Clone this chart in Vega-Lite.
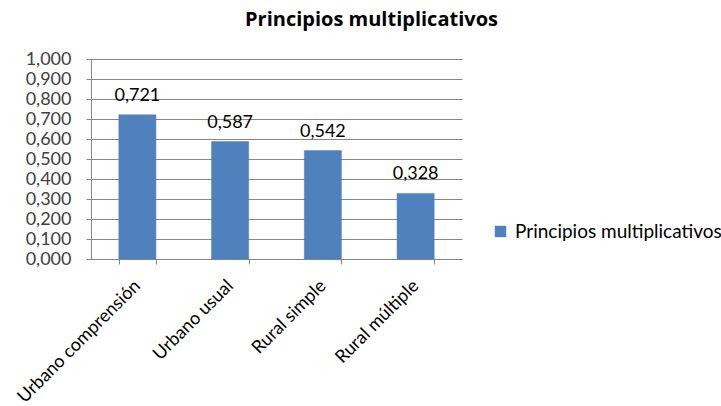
{
  "$schema": "https://vega.github.io/schema/vega-lite/v6.json",
  "autosize": "none",
  "width": 371,
  "height": 200,
  "padding": {"left": 91, "top": 59, "right": 259, "bottom": 147},
  "background": "white",
  "title": {
    "text": "Principios multiplicativos",
    "font": "Open Sans",
    "fontSize": 20,
    "fontWeight": "bold",
    "color": "#000000",
    "anchor": "middle",
    "dx": 95,
    "offset": 20
  },
  "data": {
    "values": [
      {"categoria": "Urbano comprensión", "valor": 0.721, "serie": "Principios multiplicativos"},
      {"categoria": "Urbano usual", "valor": 0.587, "serie": "Principios multiplicativos"},
      {"categoria": "Rural simple", "valor": 0.542, "serie": "Principios multiplicativos"},
      {"categoria": "Rural múltiple", "valor": 0.328, "serie": "Principios multiplicativos"}
    ]
  },
  "encoding": {
    "x": {
      "field": "categoria",
      "type": "nominal",
      "sort": null,
      "title": null,
      "scale": {"paddingInner": 0.6, "paddingOuter": 0.3},
      "axis": {
        "labelAngle": -45,
        "labelAlign": "right",
        "labelBaseline": "middle",
        "labelFont": "Lato",
        "labelFontSize": 18,
        "labelColor": "#000000",
        "labelPadding": 19,
        "tickBand": "extent",
        "tickSize": 5,
        "tickColor": "#868686",
        "domainColor": "#868686",
        "labelOverlap": false
      }
    },
    "y": {
      "field": "valor",
      "type": "quantitative",
      "title": null,
      "scale": {"domain": [0, 1], "nice": false},
      "axis": {
        "values": [0, 0.1, 0.2, 0.3, 0.4, 0.5, 0.6, 0.7, 0.8, 0.9, 1.0],
        "labelExpr": "replace(format(datum.value, '.3f'), '.', ',')",
        "labelFont": "Lato",
        "labelFontSize": 18,
        "labelColor": "#404040",
        "labelPadding": 15,
        "tickSize": 5,
        "tickColor": "#868686",
        "domainColor": "#868686",
        "gridColor": "#868686",
        "grid": true
      }
    }
  },
  "layer": [
    {
      "mark": {"type": "bar", "color": "#4F81BD", "stroke": "#4A7EBB", "strokeWidth": 0.5},
      "encoding": {
        "color": {
          "field": "serie",
          "type": "nominal",
          "scale": {"range": ["#4F81BD"]},
          "legend": {
            "title": null,
            "orient": "none",
            "legendX": 400,
            "legendY": 163,
            "symbolType": "square",
            "symbolSize": 130,
            "symbolStrokeWidth": 0,
            "labelFont": "Lato",
            "labelFontSize": 19,
            "labelColor": "#000000",
            "labelOffset": 5,
            "labelLimit": 300
          }
        }
      }
    },
    {
      "mark": {
        "type": "text",
        "dy": -19,
        "font": "Lato",
        "fontSize": 18,
        "color": "#000000",
        "text": {"expr": "replace(format(datum.valor, '.3f'), '.', ',')"}
      }
    }
  ],
  "config": {"view": {"stroke": null}}
}
